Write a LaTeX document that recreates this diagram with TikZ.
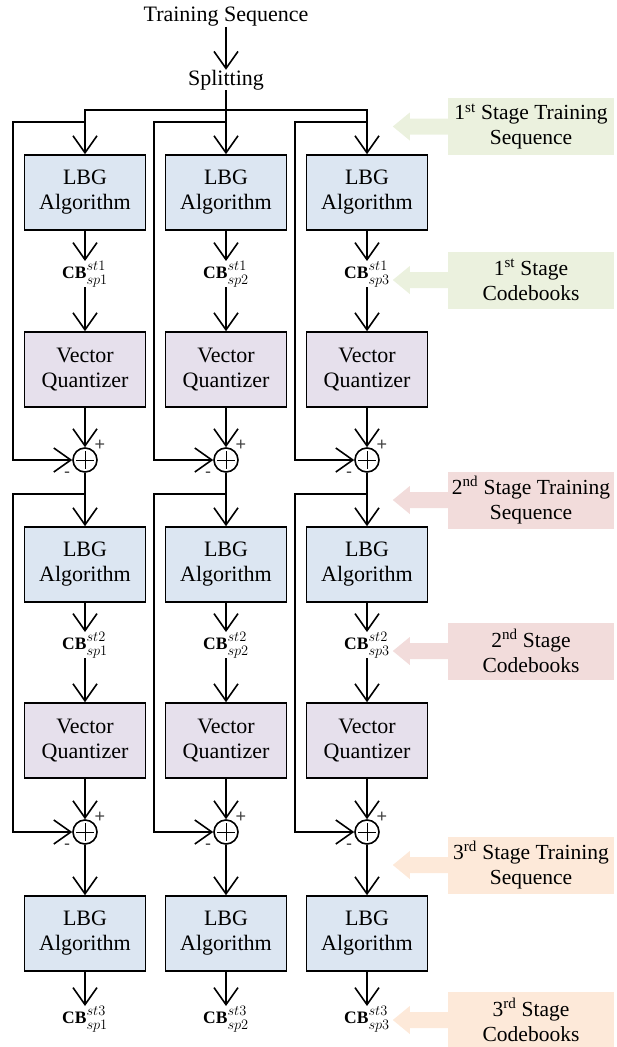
\documentclass[tikz,border=0pt]{standalone}
\usepackage{fontspec}
\setmainfont{Liberation Serif}
\newfontfamily\sansf{Liberation Sans}
\usetikzlibrary{arrows.meta,calc}
\DeclareMathSizes{17.5}{17.5}{13.5}{10}
\definecolor{lbgblue}{HTML}{DCE6F2}
\definecolor{vqpurple}{HTML}{E6E0EC}
\definecolor{stgreen}{HTML}{EBF1DE}
\definecolor{stred}{HTML}{F2DCDB}
\definecolor{storange}{HTML}{FDE9D9}
\definecolor{signgray}{HTML}{404040}
\tikzset{
  blk/.style={draw, line width=1.6pt, minimum width=121pt, minimum height=75pt, align=center, inner sep=0pt, font=\fontsize{22}{25}\selectfont},
  lbg/.style={blk, fill=lbgblue},
  vq/.style={blk, fill=vqpurple},
  cb/.style={inner sep=0pt, font=\fontsize{17.5}{20}\selectfont},
  sumc/.style={draw, circle, line width=1.6pt, minimum size=24pt, inner sep=0pt},
  conn/.style={line width=1.6pt, -{Straight Barb[length=17pt,width=24pt,line width=1.6pt]}},
  wire/.style={line width=1.6pt},
  txt/.style={inner sep=0pt, font=\fontsize{22}{25}\selectfont},
  stlabel/.style={minimum width=166pt, minimum height=57pt, align=center, inner sep=0pt, font=\fontsize{21.5}{25}\selectfont},
  sign/.style={inner sep=0pt, text=signgray, font=\sansf\fontsize{18}{18}\selectfont}
}
\newcommand{\cblabel}[2]{$\mathbf{CB}^{\raisebox{1.5pt}{$\scriptstyle st#1$}}_{\raisebox{-1.5pt}{$\scriptstyle sp#2$}}$}
\newcommand{\sumplus}[1]{%
  \draw[line width=1pt] ($(#1)+(-9,0)$) -- ($(#1)+(9,0)$);
  \draw[line width=1pt] ($(#1)+(0,-9)$) -- ($(#1)+(0,9)$);
  \node[sign] at ($(#1)+(15,-15)$) {+};
  \node[sign] at ($(#1)+(-18,15)$) {-};
}
\newcommand{\stagearrow}[2]{%
  \fill[#2] ($(#1.west)+(0,-8)$) -- ++(-38,0) -- ++(0,-6) -- ++(-17,14) -- ++(17,14) -- ++(0,-6) -- ++(38,0) -- cycle;
}
\begin{document}
\begin{tikzpicture}[x=1pt,y=-1pt]
\useasboundingbox (0,0) rectangle (616,1047);

\node[txt] (ts) at (226,17) {Training Sequence};
\node[txt] (sp) at (226,80) {Splitting};
\draw[conn] (ts) -- (sp);
\coordinate (bus) at (226,110);

\foreach \i/\cx in {1/85,2/226,3/367}{
  % stage 1
  \node[lbg] (L-1-\i) at (\cx,192.5) {LBG\\Algorithm};
  \node[cb] (C-1-\i) at (\cx,274) {\cblabel{1}{\i}};
  \node[vq] (V-1-\i) at (\cx,369.5) {Vector\\Quantizer};
  \node[sumc] (S-1-\i) at (\cx,460) {};
  % stage 2
  \node[lbg] (L-2-\i) at (\cx,564.5) {LBG\\Algorithm};
  \node[cb] (C-2-\i) at (\cx,645) {\cblabel{2}{\i}};
  \node[vq] (V-2-\i) at (\cx,740.5) {Vector\\Quantizer};
  \node[sumc] (S-2-\i) at (\cx,832) {};
  % stage 3
  \node[lbg] (L-3-\i) at (\cx,933.5) {LBG\\Algorithm};
  \node[cb] (C-3-\i) at (\cx,1019) {\cblabel{3}{\i}};
  % taps
  \coordinate (F-1-\i) at (\cx,122);
  \coordinate (F-2-\i) at (\cx,494);
  \coordinate (K-1-\i) at (\cx-72,122);
  \coordinate (K-2-\i) at (\cx-72,494);
  % connectors
  \draw[conn] (L-1-\i) -- (C-1-\i);
  \draw[conn] (C-1-\i) -- (V-1-\i);
  \draw[conn] (V-1-\i) -- (S-1-\i);
  \draw[conn] (S-1-\i) -- (L-2-\i);
  \draw[conn] (L-2-\i) -- (C-2-\i);
  \draw[conn] (C-2-\i) -- (V-2-\i);
  \draw[conn] (V-2-\i) -- (S-2-\i);
  \draw[conn] (S-2-\i) -- (L-3-\i);
  \draw[conn] (L-3-\i) -- (C-3-\i);
  \draw[conn] (F-1-\i) -- (K-1-\i) |- (S-1-\i);
  \draw[conn] (F-2-\i) -- (K-2-\i) |- (S-2-\i);
  \sumplus{S-1-\i}
  \sumplus{S-2-\i}
}
\draw[wire] (sp) -- (bus);
\draw[conn] (bus) -| (L-1-1);
\draw[conn] (bus) -- (L-1-2);
\draw[conn] (bus) -| (L-1-3);

% stage labels
\node[stlabel, fill=stgreen] (T1) at (531,126.5) {1\textsuperscript{st} Stage Training\\Sequence};
\node[stlabel, fill=stgreen] (B1) at (531,280) {1\textsuperscript{st} Stage\\Codebooks};
\node[stlabel, fill=stred] (T2) at (531,500) {2\textsuperscript{nd} Stage Training\\Sequence};
\node[stlabel, fill=stred] (B2) at (531,651) {2\textsuperscript{nd} Stage\\Codebooks};
\node[stlabel, fill=storange] (T3) at (531,865) {3\textsuperscript{rd} Stage Training\\Sequence};
\node[stlabel, fill=storange] (B3) at (531,1020) {3\textsuperscript{rd} Stage\\Codebooks};
\stagearrow{T1}{stgreen}
\stagearrow{B1}{stgreen}
\stagearrow{T2}{stred}
\stagearrow{B2}{stred}
\stagearrow{T3}{storange}
\stagearrow{B3}{storange}
\end{tikzpicture}
\end{document}
